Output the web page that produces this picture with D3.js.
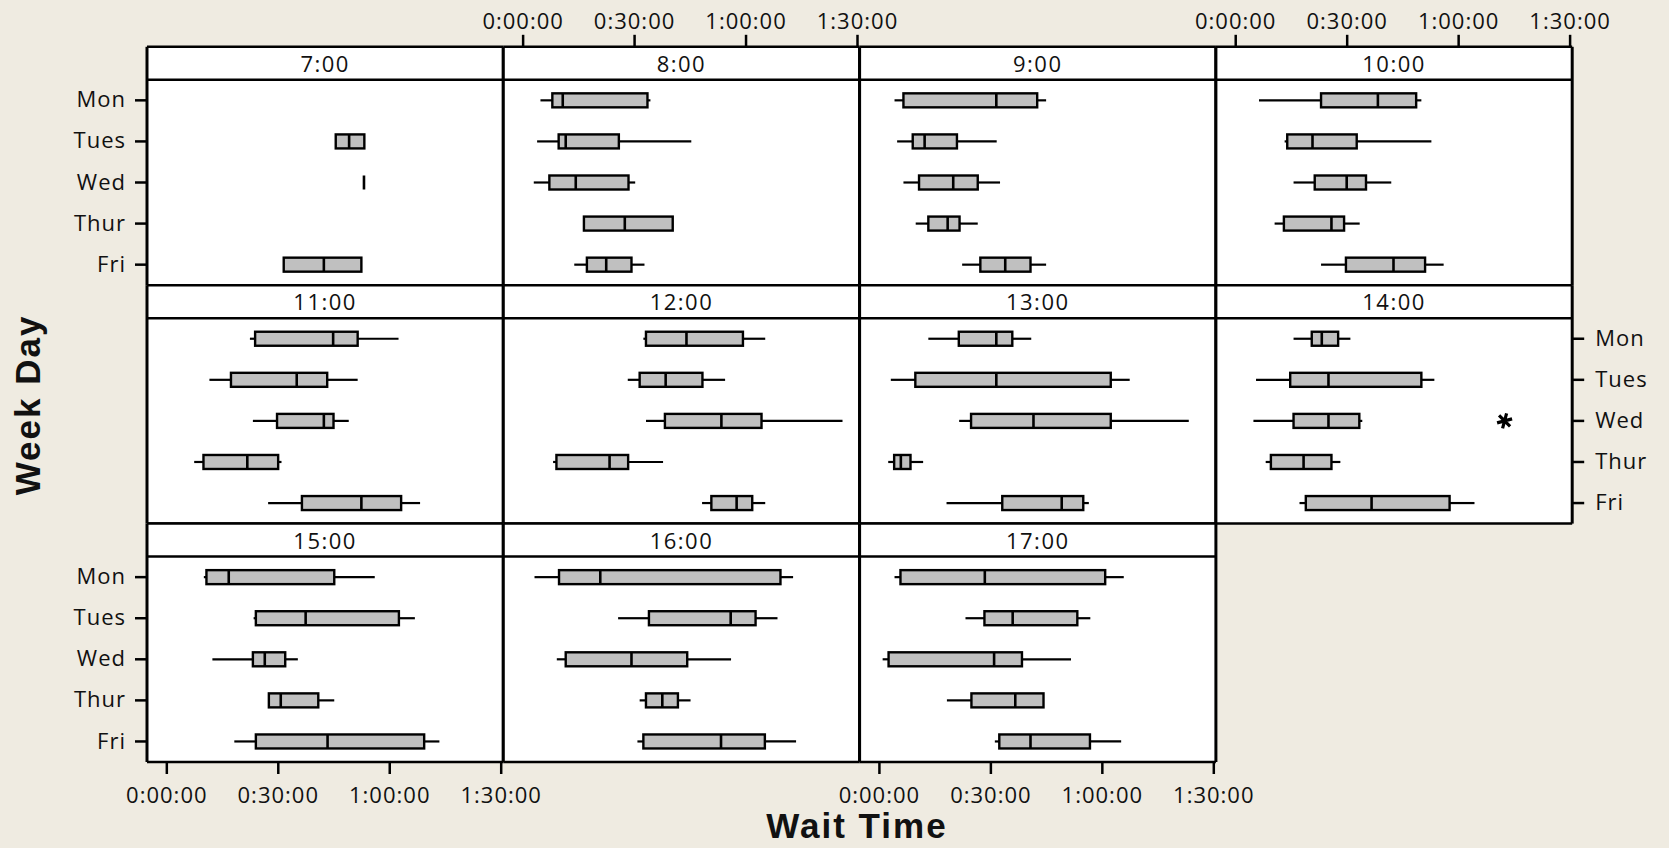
<!DOCTYPE html>
<html lang="en">
<head>
<meta charset="utf-8">
<title>Wait Time by Week Day</title>
<script src="https://cdn.jsdelivr.net/npm/d3@7"></script>
<style>
    body { margin: 0; background: #efebe1; }
    svg { display: block; }
    .tick text { font-family: "Open Sans", sans-serif; font-size: 22px; letter-spacing: 1px; fill: #111; }
    .title { font-family: "Liberation Sans", Arial, sans-serif; font-weight: bold; font-size: 35px; letter-spacing: 2px; fill: #111; }
    .strip { font-family: "Open Sans", sans-serif; font-size: 22px; letter-spacing: 1.5px; fill: #111; }
</style>
</head>
<body>
<script>
var days = ["Mon", "Tues", "Wed", "Thur", "Fri"];
var hours = ["7:00", "8:00", "9:00", "10:00", "11:00", "12:00", "13:00", "14:00", "15:00", "16:00", "17:00"];
var xTicks = [0, 30, 60, 90];

// wait time in minutes, one row per hour, one value per day (null = no data)
var whiskerLow = [
    [null, 45.6, 53.2, null, 31.6],
    [4.8, 3.9, 3.0, 16.4, 13.9],
    [4.2, 4.9, 6.6, 9.9, 22.4],
    [6.4, 13.3, 15.7, 10.6, 23.1],
    [22.5, 11.6, 23.3, 7.5, 27.4],
    [32.5, 28.3, 33.2, 8.2, 48.3],
    [13.3, 3.2, 21.6, 2.5, 18.2],
    [15.7, 5.6, 4.9, 8.2, 17.3],
    [10.1, 23.5, 12.4, 27.5, 18.3],
    [3.2, 25.7, 9.2, 31.5, 30.9],
    [4.2, 23.3, 1.0, 18.3, 31.2]
];
var q1 = [
    [null, 45.6, 53.2, null, 31.6],
    [8.0, 9.7, 7.2, 16.5, 17.3],
    [6.6, 9.1, 10.8, 13.3, 27.3],
    [23.1, 14.0, 21.4, 13.1, 29.8],
    [23.9, 17.4, 29.8, 10.0, 36.5],
    [33.2, 31.5, 38.3, 9.1, 50.8],
    [21.5, 9.8, 24.8, 4.1, 33.2],
    [20.6, 14.8, 15.7, 9.6, 19.0],
    [10.8, 24.1, 23.3, 27.6, 24.1],
    [9.8, 34.0, 11.6, 33.2, 32.5],
    [5.8, 28.4, 2.6, 24.9, 32.4]
];
var median = [
    [null, 49.2, 53.2, null, 42.4],
    [10.8, 11.6, 14.3, 27.5, 22.5],
    [31.6, 12.3, 20.0, 18.5, 34.0],
    [38.4, 20.8, 30.0, 25.9, 42.6],
    [44.9, 35.1, 42.4, 21.8, 52.5],
    [44.1, 38.5, 53.5, 23.4, 57.6],
    [31.6, 31.6, 41.6, 5.9, 49.2],
    [23.3, 25.1, 25.1, 18.4, 36.7],
    [16.8, 37.5, 26.5, 30.8, 43.4],
    [20.9, 56.0, 29.3, 37.6, 53.4],
    [28.5, 36.0, 31.0, 36.7, 40.8]
];
var q3 = [
    [null, 53.3, 53.2, null, 52.5],
    [33.6, 25.9, 28.5, 40.4, 29.3],
    [42.6, 21.0, 26.6, 21.7, 40.8],
    [48.7, 32.7, 35.2, 29.3, 51.1],
    [51.5, 43.3, 45.0, 30.1, 63.2],
    [59.3, 48.4, 64.3, 28.4, 61.8],
    [35.9, 62.4, 62.4, 8.5, 55.0],
    [27.7, 50.1, 33.4, 25.9, 57.7],
    [45.2, 62.6, 32.0, 40.9, 69.4],
    [69.4, 62.7, 44.3, 41.8, 65.2],
    [60.9, 53.4, 38.5, 44.3, 56.8]
];
var whiskerHigh = [
    [null, 53.3, 53.2, null, 52.5],
    [34.4, 45.4, 30.3, 40.5, 32.8],
    [45.0, 31.7, 32.6, 26.6, 45.0],
    [50.1, 52.8, 42.0, 33.5, 56.1],
    [62.5, 51.5, 49.1, 31.0, 68.3],
    [65.3, 54.5, 86.1, 37.8, 65.3],
    [41.0, 67.5, 83.4, 11.9, 56.5],
    [31.0, 53.6, 34.2, 28.3, 64.4],
    [56.1, 66.9, 35.4, 45.2, 73.5],
    [72.8, 68.6, 56.1, 45.2, 73.6],
    [65.9, 56.9, 51.7, 44.3, 65.2]
];
var outlierHour = ["14:00"];
var outlierDay = ["Wed"];
var outlierValue = [72.5];

var width = 1669;
var height = 848;
var x0 = 147, panelW = 356.3;
var y0 = 46.8, rowStep = 238.4, stripH = 33, plotH = 205.4;
var boxH = 14;

var svg = d3.select("body").append("svg")
    .attr("width", width)
    .attr("height", height);

function fmt(m) {
    var h = Math.floor(m / 60);
    var mm = m % 60;
    return h + ":" + (mm < 10 ? "0" : "") + mm + ":00";
}

function panelPos(i) {
    return { col: i % 4, row: Math.floor(i / 4) };
}

hours.forEach(function (hour, i) {
    var p = panelPos(i);
    var left = x0 + p.col * panelW;
    var top = y0 + p.row * rowStep;
    var plotTop = top + stripH;

    var x = d3.scaleLinear().domain([-5.2, 90.7]).range([left, left + panelW]);
    var y = d3.scaleBand().domain(days).range([plotTop, plotTop + plotH]);

    var g = svg.append("g").attr("class", "panel");

    g.append("rect")
        .attr("x", left).attr("y", top)
        .attr("width", panelW).attr("height", stripH + plotH)
        .attr("fill", "white");

    g.append("text")
        .attr("class", "strip")
        .attr("x", left + panelW / 2)
        .attr("y", top + 25)
        .attr("text-anchor", "middle")
        .text(hour);

    var rows = days.map(function (d, j) {
        return { day: d, lo: whiskerLow[i][j], q1: q1[i][j], med: median[i][j], q3: q3[i][j], hi: whiskerHigh[i][j] };
    }).filter(function (d) { return d.med != null; });

    var box = g.selectAll("g.box")
        .data(rows)
        .join("g")
        .attr("class", "box");

    box.append("line")
        .attr("x1", d => x(d.lo)).attr("x2", d => x(d.q1))
        .attr("y1", d => y(d.day) + y.bandwidth() / 2)
        .attr("y2", d => y(d.day) + y.bandwidth() / 2)
        .attr("stroke", "black").attr("stroke-width", 2.2);
    box.append("line")
        .attr("x1", d => x(d.q3)).attr("x2", d => x(d.hi))
        .attr("y1", d => y(d.day) + y.bandwidth() / 2)
        .attr("y2", d => y(d.day) + y.bandwidth() / 2)
        .attr("stroke", "black").attr("stroke-width", 2.2);
    box.append("rect")
        .attr("x", d => x(d.q1))
        .attr("width", d => x(d.q3) - x(d.q1))
        .attr("y", d => y(d.day) + y.bandwidth() / 2 - boxH / 2)
        .attr("height", boxH)
        .attr("fill", "#c0c0c0")
        .attr("stroke", "black").attr("stroke-width", 2.4);
    box.append("line")
        .attr("x1", d => x(d.med)).attr("x2", d => x(d.med))
        .attr("y1", d => y(d.day) + y.bandwidth() / 2 - boxH / 2)
        .attr("y2", d => y(d.day) + y.bandwidth() / 2 + boxH / 2)
        .attr("stroke", "black").attr("stroke-width", 2.6);

    // outliers
    var sym = d3.symbol().type(d3.symbolAsterisk || d3.symbolCross).size(170);
    outlierHour.forEach(function (h, k) {
        if (h != hour) return;
        g.append("path")
            .attr("d", sym)
            .attr("transform", "translate(" + x(outlierValue[k]) + "," + (y(outlierDay[k]) + y.bandwidth() / 2) + ") rotate(15)")
            .attr("fill", "none")
            .attr("stroke", "black")
            .attr("stroke-width", 3.2);
    });

    // panel borders
    g.append("line").attr("x1", left).attr("x2", left + panelW).attr("y1", top).attr("y2", top)
        .attr("stroke", "black").attr("stroke-width", 2.5);
    g.append("line").attr("x1", left).attr("x2", left + panelW).attr("y1", plotTop).attr("y2", plotTop)
        .attr("stroke", "black").attr("stroke-width", 2.5);
    g.append("line").attr("x1", left).attr("x2", left + panelW).attr("y1", plotTop + plotH).attr("y2", plotTop + plotH)
        .attr("stroke", "black").attr("stroke-width", 2.5);
    g.append("line").attr("x1", left).attr("x2", left).attr("y1", top).attr("y2", plotTop + plotH)
        .attr("stroke", "black").attr("stroke-width", 3);
    g.append("line").attr("x1", left + panelW).attr("x2", left + panelW).attr("y1", top).attr("y2", plotTop + plotH)
        .attr("stroke", "black").attr("stroke-width", 3);

    // axes, alternating like the original layout
    if (p.row == 0 && (p.col == 1 || p.col == 3)) {
        svg.append("g")
            .attr("transform", "translate(0," + top + ")")
            .call(d3.axisTop(x).tickValues(xTicks).tickSize(12).tickPadding(6).tickFormat(fmt));
    }
    if (p.row == 2 && (p.col == 0 || p.col == 2)) {
        svg.append("g")
            .attr("transform", "translate(0," + (plotTop + plotH) + ")")
            .call(d3.axisBottom(x).tickValues(xTicks).tickSize(12).tickPadding(13).tickFormat(fmt));
    }
    if (p.col == 0 && p.row != 1) {
        svg.append("g")
            .attr("transform", "translate(" + left + ",0)")
            .call(d3.axisLeft(y).tickSize(12).tickPadding(9));
    }
    if (hour == "14:00") {
        svg.append("g")
            .attr("transform", "translate(" + (left + panelW) + ",0)")
            .call(d3.axisRight(y).tickSize(12).tickPadding(11));
    }
});

svg.selectAll(".domain").remove();
svg.selectAll(".tick line").attr("stroke", "black").attr("stroke-width", 2.5);

svg.append("text")
    .attr("class", "title")
    .attr("transform", "translate(40,405) rotate(-90)")
    .attr("text-anchor", "middle")
    .text("Week Day");

svg.append("text")
    .attr("class", "title")
    .attr("x", 857)
    .attr("y", 838)
    .attr("text-anchor", "middle")
    .text("Wait Time");
</script>
</body>
</html>
